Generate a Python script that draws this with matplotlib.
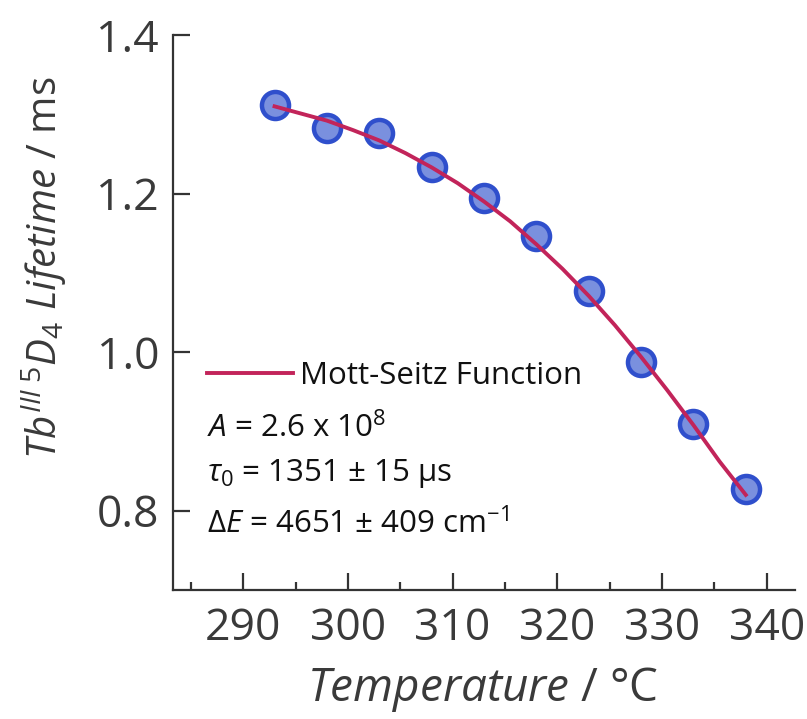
import matplotlib
matplotlib.use("Agg")
import matplotlib.pyplot as plt

plt.rcParams['font.family'] = ['Open Sans', 'DejaVu Sans']
plt.rcParams['mathtext.fontset'] = 'custom'
plt.rcParams['mathtext.rm'] = 'Open Sans'
plt.rcParams['mathtext.it'] = 'Open Sans:italic'
plt.rcParams['mathtext.bf'] = 'Open Sans:bold'

# Measured data
temperature = [293, 298, 303, 308, 313, 318, 323, 328, 333, 338]
lifetime = [1.312, 1.283, 1.276, 1.234, 1.194, 1.147, 1.077, 0.987, 0.909, 0.828]

# Fit curve
fit_t = [293, 295.5, 298, 300.5, 303, 305.5, 308, 310.5, 313, 315.5, 318,
         320.5, 323, 325.5, 328, 330.5, 333, 335.5, 338]
fit_tau = [1.310, 1.301, 1.292, 1.280, 1.267, 1.251, 1.233, 1.213, 1.190,
           1.165, 1.136, 1.105, 1.071, 1.034, 0.994, 0.952, 0.908, 0.862, 0.820]

xticks = [290, 300, 310, 320, 330, 340]
yticks = [0.8, 1.0, 1.2, 1.4]

W, H = 807, 719
fig = plt.figure(figsize=(W / 100, H / 100), dpi=100)
ax = fig.add_axes([173 / W, 1 - 590 / H, (795 - 173) / W, (590 - 35) / H])

line_color = '#C2245A'
ax.plot(fit_t, fit_tau, color=line_color, lw=2.8, zorder=3,
        label='Mott-Seitz Function')
ax.plot(temperature, lifetime, 'o', ms=19.5, mfc='#7A90DE', mec='#2F4FCC',
        mew=3.2, zorder=2)

ax.set_xlim(283.3, 342.7)
ax.set_ylim(0.70, 1.40)
ax.set_xticks(xticks)
ax.set_xticks([285, 295, 305, 315, 325, 335], minor=True)
ax.set_yticks(yticks)
ax.set_yticklabels(['0.8', '1.0', '1.2', '1.4'])

for s in ['top', 'right']:
    ax.spines[s].set_visible(False)
for s in ['left', 'bottom']:
    ax.spines[s].set_linewidth(1.6)
    ax.spines[s].set_color('#333333')

tick_col = '#3a3a3a'
ax.tick_params(axis='both', which='major', direction='in', length=12,
               width=1.6, color='#333333', labelsize=32, labelcolor=tick_col)
ax.tick_params(axis='x', which='minor', direction='in', length=6,
               width=1.6, color='#333333')
ax.tick_params(axis='x', which='major', pad=12)
ax.tick_params(axis='y', which='major', pad=10)

fs = 22.5
leg = ax.legend(loc='center left', bbox_to_anchor=(207 / W, 1 - 376 / H),
                bbox_transform=fig.transFigure, frameon=False,
                fontsize=fs, handlelength=2.75, handletextpad=0.22,
                borderaxespad=0, borderpad=0)
for t in leg.get_texts():
    t.set_color('#111111')

tc = '#111111'
ax.text(207 / W, 1 - 428 / H, r'$\mathit{A}$ = 2.6 x 10$^{8}$', transform=fig.transFigure,
        fontsize=fs, color=tc, va='center', ha='left')
ax.text(207 / W, 1 - 474 / H, r'$\mathit{\tau_{0}}$ = 1351 ± 15 μs', transform=fig.transFigure,
        fontsize=fs, color=tc, va='center', ha='left')
ax.text(207 / W, 1 - 524 / H, r'$\mathit{ΔE}$ = 4651 ± 409 cm$^{\mathrm{-1}}$', transform=fig.transFigure,
        fontsize=fs, color=tc, va='center', ha='left')

fig.text(483 / W, 1 - 690 / H, r'$\mathit{Temperature}$ / °C', fontsize=33,
         color=tick_col, ha='center', va='center')
fig.text(44 / W, 1 - 268 / H,
         r'$\mathit{Tb}^{\mathit{III}}\,{}^{5}\mathit{D}_{4}\ \mathit{Lifetime}$ / ms',
         fontsize=29, color=tick_col, ha='center', va='center', rotation=90)

fig.savefig('out.png', dpi=100)
